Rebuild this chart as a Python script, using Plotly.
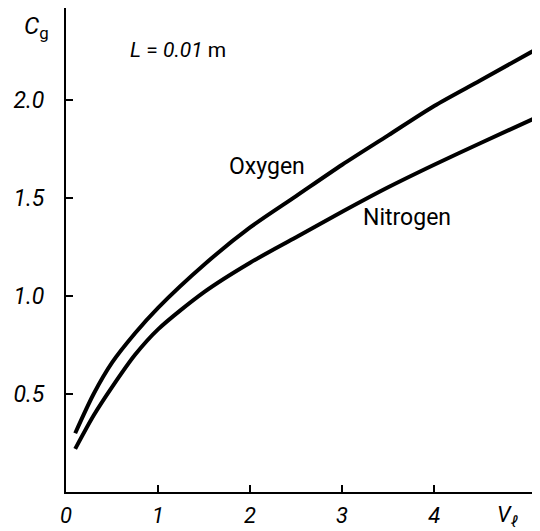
import plotly.graph_objects as go

# Data
v_l = [0.1, 0.3, 0.5, 0.75, 1.0, 1.5, 2.0, 2.5, 3.0, 3.5, 4.0, 4.5, 5.15]
oxygen = [0.30, 0.50, 0.66, 0.81, 0.94, 1.16, 1.35, 1.51, 1.67, 1.82, 1.97, 2.10, 2.27]
nitrogen = [0.22, 0.39, 0.535, 0.70, 0.83, 1.02, 1.17, 1.30, 1.43, 1.555, 1.67, 1.78, 1.92]

x_ticks = [0, 1, 2, 3, 4]
x_ticktext = ["0", "1", "2", "3", "4"]
y_ticks = [0.5, 1.0, 1.5, 2.0, 2.47]
y_ticktext = ["0.5", "1.0", "1.5", "2.0", ""]

FONT = "Roboto, Liberation Sans, sans-serif"

fig = go.Figure()
fig.add_trace(go.Scatter(x=v_l, y=oxygen, mode="lines", name="Oxygen",
                         line=dict(color="black", width=4, shape="spline", smoothing=0.8)))
fig.add_trace(go.Scatter(x=v_l, y=nitrogen, mode="lines", name="Nitrogen",
                         line=dict(color="black", width=4, shape="spline", smoothing=0.8)))

# the page body adds an 8px margin, so the figure is sized/margined to compensate
fig.update_layout(
    width=532, height=523,
    margin=dict(l=58, r=0, t=0, b=39),
    paper_bgcolor="white", plot_bgcolor="white",
    showlegend=False,
    xaxis=dict(range=[0, 5.15], tickvals=x_ticks, ticktext=x_ticktext, automargin=False,
               showgrid=False, zeroline=False, showline=True, linecolor="black",
               linewidth=2, ticks="inside", ticklen=7, tickwidth=2, tickcolor="black",
               tickfont=dict(family=FONT, size=22, color="black", style="italic"),
               ticklabelstandoff=3),
    yaxis=dict(range=[0, 2.47], tickvals=y_ticks, ticktext=y_ticktext, automargin=False,
               showgrid=False, zeroline=False, showline=True, linecolor="black",
               linewidth=2, ticks="inside", ticklen=7, tickwidth=2, tickcolor="black",
               tickfont=dict(family=FONT, size=23, color="black", style="italic"),
               ticklabelstandoff=15),
)

ann_font = dict(family=FONT, size=23, color="black")
fig.add_annotation(x=2.18, y=1.66, xref="x", yref="y", text="Oxygen",
                   showarrow=False, font=ann_font)
fig.add_annotation(x=3.70, y=1.40, xref="x", yref="y", text="Nitrogen",
                   showarrow=False, font=ann_font)
fig.add_annotation(x=0.67, y=2.255, xref="x", yref="y", xanchor="left",
                   text="<i>L</i> = <i>0.01</i> m", showarrow=False,
                   font=dict(family=FONT, size=21, color="black"))
fig.add_annotation(x=(22 - 66) / 474, y=(492 - 10) / 484, xref="paper", yref="paper",
                   xanchor="left", yanchor="top",
                   text="<i>C</i><sub>g</sub>", showarrow=False,
                   font=dict(family=FONT, size=24, color="black"))
fig.add_annotation(x=4.80, y=-24 / 484, xref="x", yref="paper", yanchor="middle",
                   text="<i>V</i><sub><i>ℓ</i></sub>", showarrow=False,
                   font=dict(family=FONT, size=22, color="black"))

fig.write_html("out.html")
